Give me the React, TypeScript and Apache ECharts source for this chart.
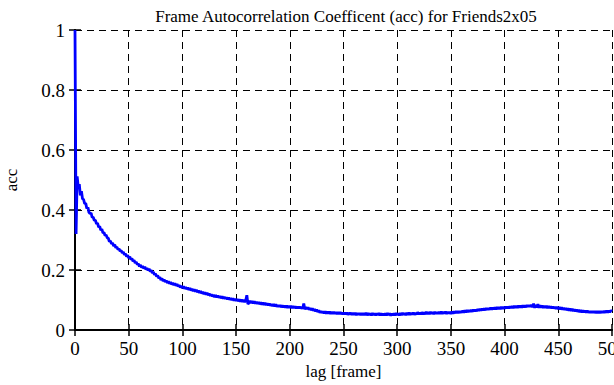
import React, { useEffect, useRef } from "react";
import * as echarts from "echarts";

const titleText = "Frame Autocorrelation Coefficent (acc) for Friends2x05";
const xAxisName = "lag [frame]";
const yAxisName = "acc";
const xTicks = [0, 50, 100, 150, 200, 250, 300, 350, 400, 450, 500];
const yTicks = [0, 0.2, 0.4, 0.6, 0.8, 1];
// acc value for lag 0, 1, 2, ... 500 (one value per frame of lag)
const accValues = [
  1.000, 0.320, 0.512, 0.478, 0.486, 0.449, 0.463, 0.437, 0.435, 0.421,
  0.422, 0.405, 0.409, 0.392, 0.388, 0.390, 0.375, 0.376, 0.365, 0.366,
  0.354, 0.356, 0.343, 0.345, 0.333, 0.336, 0.324, 0.325, 0.315, 0.317,
  0.307, 0.306, 0.295, 0.297, 0.287, 0.290, 0.280, 0.284, 0.274, 0.277,
  0.268, 0.271, 0.263, 0.265, 0.257, 0.260, 0.251, 0.254, 0.245, 0.249,
  0.240, 0.244, 0.235, 0.238, 0.229, 0.233, 0.223, 0.227, 0.218, 0.221,
  0.212, 0.217, 0.208, 0.213, 0.205, 0.211, 0.202, 0.206, 0.199, 0.204,
  0.195, 0.199, 0.190, 0.193, 0.184, 0.188, 0.178, 0.182, 0.172, 0.176,
  0.167, 0.172, 0.163, 0.168, 0.160, 0.165, 0.157, 0.162, 0.154, 0.160,
  0.152, 0.157, 0.150, 0.156, 0.148, 0.153, 0.145, 0.150, 0.142, 0.147,
  0.140, 0.146, 0.138, 0.143, 0.136, 0.141, 0.134, 0.140, 0.132, 0.137,
  0.130, 0.136, 0.128, 0.134, 0.126, 0.131, 0.124, 0.130, 0.122, 0.127,
  0.120, 0.125, 0.118, 0.124, 0.116, 0.121, 0.114, 0.119, 0.112, 0.117,
  0.110, 0.116, 0.109, 0.114, 0.108, 0.113, 0.106, 0.112, 0.105, 0.110,
  0.104, 0.109, 0.102, 0.108, 0.101, 0.106, 0.100, 0.105, 0.098, 0.104,
  0.097, 0.103, 0.096, 0.102, 0.095, 0.101, 0.094, 0.100, 0.093, 0.099,
  0.116, 0.086, 0.091, 0.097, 0.090, 0.096, 0.089, 0.095, 0.088, 0.094,
  0.087, 0.093, 0.086, 0.092, 0.085, 0.091, 0.084, 0.090, 0.083, 0.089,
  0.082, 0.088, 0.081, 0.086, 0.080, 0.086, 0.079, 0.085, 0.078, 0.083,
  0.077, 0.083, 0.076, 0.082, 0.076, 0.081, 0.075, 0.081, 0.074, 0.080,
  0.074, 0.080, 0.073, 0.079, 0.073, 0.079, 0.072, 0.078, 0.072, 0.078,
  0.072, 0.077, 0.071, 0.088, 0.069, 0.076, 0.070, 0.075, 0.068, 0.073,
  0.066, 0.072, 0.064, 0.070, 0.062, 0.068, 0.060, 0.066, 0.058, 0.063,
  0.057, 0.062, 0.056, 0.062, 0.055, 0.061, 0.055, 0.061, 0.054, 0.060,
  0.054, 0.060, 0.054, 0.059, 0.053, 0.059, 0.053, 0.059, 0.053, 0.058,
  0.052, 0.058, 0.052, 0.058, 0.051, 0.057, 0.052, 0.057, 0.051, 0.057,
  0.051, 0.057, 0.050, 0.056, 0.051, 0.056, 0.050, 0.056, 0.050, 0.056,
  0.050, 0.057, 0.049, 0.056, 0.050, 0.055, 0.049, 0.056, 0.050, 0.055,
  0.049, 0.055, 0.050, 0.056, 0.049, 0.055, 0.050, 0.054, 0.049, 0.055,
  0.049, 0.056, 0.050, 0.055, 0.048, 0.054, 0.050, 0.055, 0.049, 0.056,
  0.050, 0.055, 0.049, 0.056, 0.050, 0.057, 0.051, 0.056, 0.050, 0.057,
  0.051, 0.058, 0.051, 0.057, 0.052, 0.058, 0.051, 0.057, 0.052, 0.059,
  0.053, 0.058, 0.052, 0.059, 0.053, 0.058, 0.053, 0.060, 0.053, 0.059,
  0.053, 0.060, 0.054, 0.059, 0.053, 0.060, 0.054, 0.059, 0.054, 0.060,
  0.054, 0.061, 0.054, 0.060, 0.055, 0.061, 0.054, 0.060, 0.055, 0.060,
  0.054, 0.061, 0.055, 0.062, 0.056, 0.063, 0.057, 0.062, 0.057, 0.063,
  0.058, 0.064, 0.058, 0.065, 0.059, 0.066, 0.060, 0.066, 0.061, 0.067,
  0.061, 0.068, 0.062, 0.068, 0.063, 0.069, 0.064, 0.070, 0.065, 0.071,
  0.066, 0.072, 0.066, 0.073, 0.067, 0.073, 0.068, 0.074, 0.068, 0.074,
  0.069, 0.075, 0.069, 0.076, 0.070, 0.076, 0.070, 0.077, 0.071, 0.077,
  0.071, 0.078, 0.072, 0.078, 0.072, 0.079, 0.073, 0.079, 0.073, 0.080,
  0.074, 0.080, 0.074, 0.081, 0.075, 0.081, 0.075, 0.082, 0.076, 0.082,
  0.076, 0.083, 0.077, 0.083, 0.077, 0.084, 0.076, 0.088, 0.074, 0.083,
  0.075, 0.086, 0.074, 0.082, 0.075, 0.081, 0.074, 0.080, 0.074, 0.080,
  0.073, 0.079, 0.073, 0.079, 0.072, 0.078, 0.072, 0.077, 0.071, 0.077,
  0.070, 0.076, 0.069, 0.075, 0.068, 0.074, 0.067, 0.073, 0.066, 0.072,
  0.065, 0.071, 0.064, 0.070, 0.063, 0.069, 0.062, 0.068, 0.061, 0.067,
  0.060, 0.066, 0.059, 0.065, 0.059, 0.064, 0.058, 0.064, 0.058, 0.063,
  0.057, 0.063, 0.057, 0.063, 0.057, 0.062, 0.057, 0.063, 0.057, 0.062,
  0.057, 0.063, 0.058, 0.063, 0.058, 0.064, 0.058, 0.064, 0.059, 0.065,
  0.062,
];

const FONT = "Liberation Serif";

export default function App() {
  const ref = useRef<HTMLDivElement>(null);
  useEffect(() => {
    document.body.style.margin = "0";
    if (!ref.current) return;
    const chart = echarts.init(ref.current, null, { renderer: "svg" });
    const data = accValues.map((v, lag) => [lag, v]);
    const axisLine = { show: true, lineStyle: { color: "#000", width: 2 } };
    const tick = { show: true, inside: true, length: 6, lineStyle: { color: "#000", width: 1.5 } };
    const label = { color: "#000", fontFamily: FONT, fontSize: 19 };
    const xBase = { type: "value", min: xTicks[0], max: xTicks[xTicks.length - 1], interval: xTicks[1] - xTicks[0] };
    const yBase = { type: "value", min: yTicks[0], max: yTicks[yTicks.length - 1], interval: 0.2 };
    chart.setOption({
      animation: false,
      textStyle: { fontFamily: FONT },
      title: {
        text: titleText,
        left: 341,
        textAlign: "center",
        top: 3,
        textStyle: { fontFamily: FONT, fontSize: 17, fontWeight: "normal", color: "#000" },
      },
      grid: { left: 75, right: 2, top: 30, bottom: 55, containLabel: false, outerBoundsMode: "none" },
      xAxis: [
        {
          ...xBase,
          position: "bottom",
          name: xAxisName,
          nameLocation: "middle",
          nameGap: 25,
          nameTextStyle: { color: "#000", fontFamily: FONT, fontSize: 17 },
          axisLine,
          axisTick: tick,
          axisLabel: { ...label, margin: 9, hideOverlap: false },
          splitLine: { show: true, lineStyle: { color: "#000", type: [7, 5], width: 1 } },
        },
        {
          ...xBase,
          position: "top",
          axisLine,
          axisTick: tick,
          axisLabel: { show: false },
          splitLine: { show: false },
        },
      ],
      yAxis: [
        {
          ...yBase,
          position: "left",
          name: yAxisName,
          nameLocation: "middle",
          nameGap: 55,
          nameTextStyle: { color: "#000", fontFamily: FONT, fontSize: 17 },
          axisLine,
          axisTick: tick,
          axisLabel: { ...label, margin: 10 },
          splitLine: { show: true, lineStyle: { color: "#000", type: [7, 5], width: 1 } },
        },
        {
          ...yBase,
          position: "right",
          axisLine,
          axisTick: tick,
          axisLabel: { show: false },
          splitLine: { show: false },
        },
      ],
      series: [
        {
          type: "line",
          data,
          showSymbol: false,
          symbol: "none",
          lineStyle: { color: "#0000ff", width: 2.8 },
          z: 3,
        },
      ],
    });
    return () => chart.dispose();
  }, []);
  return <div ref={ref} style={{ width: 614, height: 385 }} />;
}
